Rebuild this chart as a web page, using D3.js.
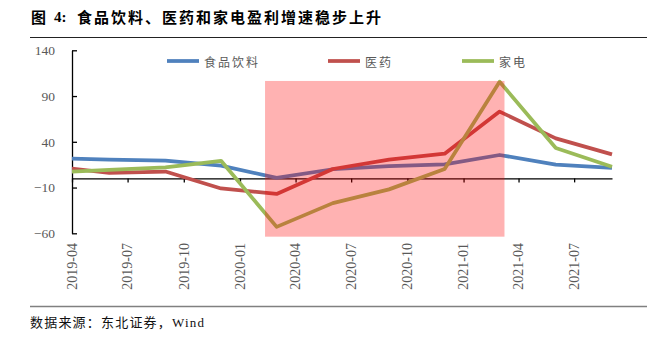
<!DOCTYPE html>
<html>
<head>
<meta charset="utf-8">
<script src="https://cdn.jsdelivr.net/npm/d3@7"></script>
<style>
  html, body { margin: 0; padding: 0; background: #fff; }
  svg { display: block; }
</style>
</head>
<body>
<svg id="chart" width="652" height="338"></svg>
<script>
// ---- data ----
const months = ["2019-03", "2019-06", "2019-09", "2019-12", "2020-03", "2020-06",
                "2020-09", "2020-12", "2021-03", "2021-06", "2021-09"];
const foodBeverage = [22.4, 20.4, 19.4, 14.0, 0.5, 10.0, 13.5, 15.4, 25.6, 15.0, 11.5];
const pharma       = [12.9, 6.0, 7.5, -11.0, -17.0, 10.3, 20.5, 27.0, 73.0, 43.8, 26.3];
const appliance    = [6.3, 9.2, 12.0, 19.2, -53.0, -27.0, -12.0, 10.2, 105.7, 33.2, 12.8];
const seriesNames  = ["食品饮料", "医药", "家电"];
const seriesColors = ["#4F81BD", "#C0504D", "#9BBB59"];
const xTickLabels  = ["2019-04", "2019-07", "2019-10", "2020-01", "2020-04", "2020-07",
                      "2020-10", "2021-01", "2021-04", "2021-07"];
const yTickValues  = [-60, -10, 40, 90, 140];
const shadeDates   = ["2020-02-11", "2021-03-09"];
const shadeValues  = [-63.7, 106.5];
const titleText    = "食品饮料、医药和家电盈利增速稳步上升";
const sourceText   = "数据来源：东北证券，Wind";

// ---- setup ----
const parseM = d3.utcParse("%Y-%m");
const parseD = d3.utcParse("%Y-%m-%d");
const svg = d3.select("#chart");
const serifCJK = "'Liberation Serif', 'Noto Sans CJK SC', serif";
const cjk = "'Noto Sans CJK SC', sans-serif";

const x = d3.scaleUtc()
  .domain([parseM("2019-04"), parseM("2021-09")])
  .range([72, 612]);
const y = d3.scaleLinear()
  .domain([-60, 140])
  .range([233.3, 50.3]);

// ---- title ----
svg.append("text").attr("x", 31).attr("y", 16.5)
  .attr("dominant-baseline", "central")
  .style("font-family", cjk).style("font-weight", "bold").style("font-size", "15px")
  .text("图");
svg.append("text").attr("x", 54).attr("y", 16.5)
  .attr("dominant-baseline", "central")
  .style("font-family", serifCJK).style("font-weight", "bold").style("font-size", "15px")
  .text("4:");
svg.append("text").attr("x", 77).attr("y", 16.5)
  .attr("dominant-baseline", "central")
  .style("font-family", cjk).style("font-weight", "bold").style("font-size", "15px")
  .style("letter-spacing", "2px")
  .text(titleText);
svg.append("line").attr("x1", 30).attr("x2", 647).attr("y1", 37.5).attr("y2", 37.5)
  .attr("stroke", "#222").attr("stroke-width", 1.2);

// ---- axes ----
const yAxis = d3.axisLeft(y).tickValues(yTickValues).tickSizeInner(-5).tickSizeOuter(0)
  .tickPadding(17).tickFormat(d3.format("d"));
const gy = svg.append("g").attr("transform", "translate(72,0)").call(yAxis);
gy.select(".domain").attr("stroke", "#000").attr("stroke-width", 1.3);
gy.selectAll(".tick line").attr("stroke", "#000").attr("stroke-width", 1.3);
gy.selectAll(".tick text").attr("fill", "#595959")
  .style("font-family", "'Liberation Serif', serif").style("font-size", "13.5px");

const xTickDates = xTickLabels.map(parseM);
const xAxis = d3.axisBottom(x).tickValues(xTickDates).tickSizeInner(4).tickSizeOuter(0)
  .tickFormat("");
const gx = svg.append("g").attr("transform", `translate(0,${y(0)})`).call(xAxis);
gx.select(".domain").attr("stroke", "#000").attr("stroke-width", 1.3);
gx.selectAll(".tick line").attr("stroke", "#000").attr("stroke-width", 1.3);

svg.append("g").selectAll("text").data(xTickLabels).join("text")
  .attr("transform", d => `translate(${x(parseM(d))},243) rotate(-90)`)
  .attr("text-anchor", "end")
  .attr("dy", "0.35em")
  .attr("fill", "#595959")
  .style("font-family", "'Liberation Serif', serif").style("font-size", "14px")
  .text(d => d);

// ---- lines ----
svg.append("clipPath").attr("id", "plotclip")
  .append("rect").attr("x", 72).attr("y", 0).attr("width", 560).attr("height", 338);

const seriesData = [foodBeverage, pharma, appliance];
const line = d3.line()
  .x((d, i) => x(parseM(months[i])))
  .y(d => y(d));

svg.append("g").attr("clip-path", "url(#plotclip)")
  .selectAll("path").data(seriesData).join("path")
  .attr("d", d => line(d))
  .attr("fill", "none")
  .attr("stroke", (d, i) => seriesColors[i])
  .attr("stroke-width", 3.75)
  .attr("stroke-linejoin", "round");

// ---- shaded period (overlay) ----
svg.append("rect")
  .attr("x", x(parseD(shadeDates[0])))
  .attr("width", x(parseD(shadeDates[1])) - x(parseD(shadeDates[0])))
  .attr("y", y(shadeValues[1]))
  .attr("height", y(shadeValues[0]) - y(shadeValues[1]))
  .attr("fill", "rgba(255,0,0,0.3)");

// ---- legend ----
const legendX = [167, 328, 462];
const lg = svg.append("g");
seriesNames.forEach((name, i) => {
  lg.append("line")
    .attr("x1", legendX[i]).attr("x2", legendX[i] + 32)
    .attr("y1", 61).attr("y2", 61)
    .attr("stroke", seriesColors[i]).attr("stroke-width", 3.75);
  lg.append("text")
    .attr("x", legendX[i] + 37).attr("y", 61)
    .attr("dominant-baseline", "central")
    .attr("fill", "#595959")
    .style("font-family", cjk).style("font-size", "12px")
    .style("letter-spacing", "2px")
    .text(name);
});

// ---- footer ----
svg.append("line").attr("x1", 30).attr("x2", 647).attr("y1", 306.5).attr("y2", 306.5)
  .attr("stroke", "#808080").attr("stroke-width", 1.5);
svg.append("text").attr("x", 30).attr("y", 322)
  .attr("dominant-baseline", "central")
  .attr("fill", "#111")
  .style("font-family", serifCJK).style("font-size", "13px")
  .style("letter-spacing", "1.2px")
  .text(sourceText);
</script>
</body>
</html>
